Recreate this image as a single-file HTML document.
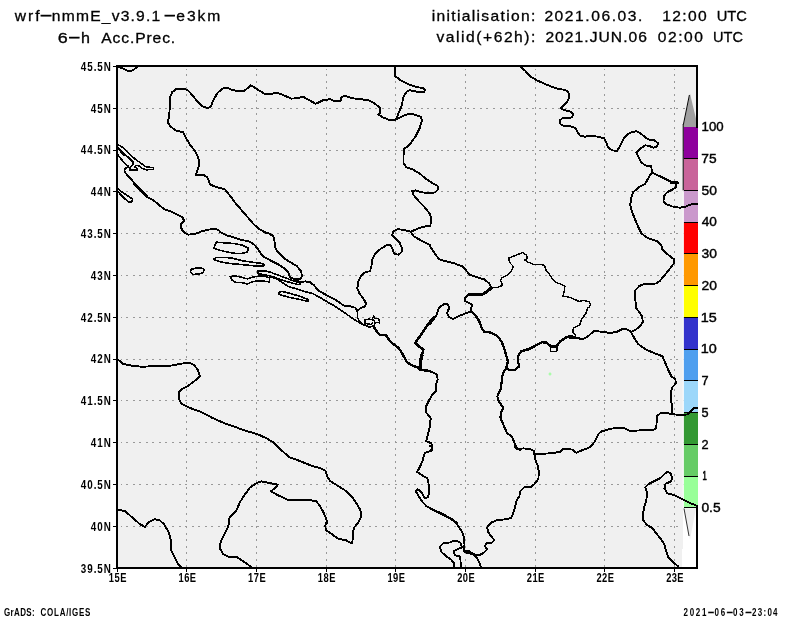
<!DOCTYPE html>
<html><head><meta charset="utf-8"><title>wrf-nmmE 6-h Acc.Prec.</title>
<style>html,body{margin:0;padding:0;background:#fff}svg{display:block}text{font-family:"Liberation Sans",sans-serif;fill:#000}</style></head><body>
<svg width="800" height="618" viewBox="0 0 800 618">
<rect width="800" height="618" fill="#fff"/>
<defs><clipPath id="c"><rect x="117" y="66" width="581" height="502"/></clipPath></defs>
<rect x="117" y="66" width="580" height="502" fill="#f0f0f0"/>
<path d="M186.5 69.0V568.0M256.5 69.0V568.0M326.5 69.0V568.0M395.5 69.0V568.0M465.5 69.0V568.0M535.5 69.0V568.0M604.5 69.0V568.0M674.5 69.0V568.0M121.0 108.5H697.0M121.0 150.5H697.0M121.0 191.5H697.0M121.0 233.5H697.0M121.0 275.5H697.0M121.0 317.5H697.0M121.0 359.5H697.0M121.0 400.5H697.0M121.0 442.5H697.0M121.0 484.5H697.0M121.0 526.5H697.0" stroke="#999" stroke-width="1" stroke-dasharray="2 4.55" stroke-dashoffset="1.4" shape-rendering="crispEdges" fill="none"/>
<rect x="683" y="507" width="14" height="60" fill="#fff"/>
<rect x="682" y="549" width="15" height="18" fill="#fff"/>
<polygon points="684,508.5 696,508.5 690,539.5" fill="#eee"/>
<path d="M684 508.5L689 536" stroke="#000" stroke-width="0.8" fill="none"/>
<rect x="683.6" y="126.80" width="14.4" height="32.05" fill="#8e009d"/>
<rect x="683.6" y="158.55" width="14.4" height="32.05" fill="#c9649a"/>
<rect x="683.6" y="190.30" width="14.4" height="32.05" fill="#ca99cc"/>
<rect x="683.6" y="222.05" width="14.4" height="32.05" fill="#ff0000"/>
<rect x="683.6" y="253.80" width="14.4" height="32.05" fill="#ff9900"/>
<rect x="683.6" y="285.55" width="14.4" height="32.05" fill="#ffff00"/>
<rect x="683.6" y="317.30" width="14.4" height="32.05" fill="#3333cc"/>
<rect x="683.6" y="349.05" width="14.4" height="32.05" fill="#4f9fef"/>
<rect x="683.6" y="380.80" width="14.4" height="32.05" fill="#9cd7fa"/>
<rect x="683.6" y="412.55" width="14.4" height="32.05" fill="#339933"/>
<rect x="683.6" y="444.30" width="14.4" height="32.05" fill="#66cc66"/>
<rect x="683.6" y="476.05" width="14.4" height="32.05" fill="#99ff99"/>
<polygon points="683.2,127 698,127 690,93.8" fill="#a0a0a0"/>
<path d="M683.4 124.5L689.4 95" stroke="#000" stroke-width="1" fill="none"/>
<path d="M683.6 158.55H698M683.6 190.30H698M683.6 222.05H698M683.6 253.80H698M683.6 285.55H698M683.6 317.30H698M683.6 349.05H698M683.6 380.80H698M683.6 412.55H698M683.6 444.30H698M683.6 476.05H698M683.6 507.80H698" stroke="#000" stroke-width="1" fill="none" shape-rendering="crispEdges"/>
<path d="M683.2 124V190.5" stroke="#000" stroke-width="1" fill="none"/>
<path d="M683.2 190.5V508" stroke="#fff" stroke-width="1" fill="none"/>
<path d="M117 66H697V127 M697 507.5V568H117V66" stroke="#000" stroke-width="2" fill="none" stroke-linecap="square" shape-rendering="crispEdges"/>
<path d="M113.0 66.5H117.0M113.0 108.5H117.0M113.0 150.5H117.0M113.0 191.5H117.0M113.0 233.5H117.0M113.0 275.5H117.0M113.0 317.5H117.0M113.0 359.5H117.0M113.0 400.5H117.0M113.0 442.5H117.0M113.0 484.5H117.0M113.0 526.5H117.0M113.0 568.5H117.0M117.5 568.0V572.0M186.5 568.0V572.0M256.5 568.0V572.0M326.5 568.0V572.0M395.5 568.0V572.0M465.5 568.0V572.0M535.5 568.0V572.0M604.5 568.0V572.0M674.5 568.0V572.0" stroke="#000" stroke-width="1" fill="none" shape-rendering="crispEdges"/>
<g clip-path="url(#c)" fill="none" stroke="#000" stroke-linejoin="round" stroke-linecap="round" shape-rendering="crispEdges">
<path d="M118.0 66.6L124.1 69.0L129.1 71.6L133.1 70.0L137.1 67.2" stroke-width="1.9"/>
<path d="M209.8 183.5L207.4 177.5L203.4 174.9L195.9 174.9L197.3 170.4L199.4 164.4L198.4 158.4L195.3 151.4L190.3 145.3L186.3 138.3L183.3 132.3L176.3 130.7L170.2 126.3L167.8 122.2L169.2 116.2L169.8 106.2L170.2 97.1L172.2 92.1L176.3 89.1L182.3 88.7L187.3 89.7L192.3 95.1L197.3 101.2L202.4 106.2L207.4 108.2L210.4 107.2L213.4 100.2L217.4 93.1L222.4 88.5L227.5 87.7L232.5 90.1L238.5 91.1L243.5 91.5L247.6 88.1L250.6 85.1L258.6 90.1L264.6 93.7L270.0 94.5" stroke-width="1.9"/>
<path d="M270.0 94.5L276.0 92.5L282.0 94.5L291.1 98.6L298.1 98.2L303.1 96.7L309.2 100.2L315.8 103.8L323.2 100.2L330.2 99.2L334.3 101.2L340.7 100.8L341.3 97.1L344.7 95.7L352.3 98.2L360.4 99.2L368.4 100.2L374.4 103.2L380.0 107.8L380.4 112.6L378.4 114.6L382.4 117.2L388.5 119.6L395.9 119.6" stroke-width="1.9"/>
<path d="M395.9 119.6L398.5 113.2L401.5 106.2L403.5 97.1L406.5 91.7L409.6 90.1L416.6 91.7L423.6 92.5L425.0 90.1L423.6 88.1L416.6 87.1L408.6 84.5L400.5 80.1L395.5 76.5L394.5 74.1L395.5 66.6" stroke-width="1.9"/>
<path d="M395.9 119.6L402.5 116.2L408.6 113.8L414.6 114.6L420.6 116.6L422.0 120.2L419.6 128.3L415.6 136.3L410.6 143.3L406.5 147.3L403.9 148.4L403.5 156.4L403.5 163.4L406.5 167.4L412.6 169.4L419.6 173.5L425.6 178.5L430.0 181.5" stroke-width="1.9"/>
<path d="M520.4 66.6L525.4 71.0L530.4 76.5L536.4 80.1L544.5 83.7L552.5 87.1L558.5 89.1L564.5 89.7L568.2 91.7L569.6 96.1L567.6 101.2L563.5 105.8L561.1 108.2L564.5 110.2L570.6 111.6L573.0 114.2L572.2 117.2L568.6 118.2L562.5 118.2L559.9 120.2L560.5 124.3L563.5 125.9L570.6 126.3L575.6 128.3L577.6 132.3L579.6 135.3L584.6 136.7L590.0 135.9" stroke-width="1.9"/>
<path d="M590.1 135.9L592.1 135.9L598.1 136.7L604.1 138.3L606.1 142.3L608.2 147.3L612.2 150.4L617.2 150.8L619.2 147.3L622.2 141.3L625.2 136.3L630.2 132.7L636.3 131.3L640.3 133.3L645.3 137.3L649.3 139.7L654.3 140.3L658.0 143.3L657.3 146.3L653.3 147.8L649.3 145.9L645.3 145.3L640.3 148.4L636.3 152.4L638.3 156.4L641.3 162.4L645.3 165.4L651.3 166.4L651.9 172.4L658.4 175.5L666.4 179.5L672.4 182.5" stroke-width="1.9"/>
<path d="M651.9 172.4L649.3 176.5L645.3 183.5" stroke-width="1.9"/>
<path d="M671.4 182.5L677.4 182.9" stroke-width="3"/>
<path d="M134.1 184.0L140.1 190.0L147.1 197.1L153.2 200.1L159.2 205.1L164.2 209.1L170.2 211.1L176.3 214.1L182.3 217.1L184.3 221.1L181.3 223.2L180.7 227.2L183.3 231.8L188.3 234.6L194.3 234.2L200.4 231.8L207.4 229.8L214.4 228.8L218.4 229.8L220.4 232.2L226.5 235.2L234.5 237.8L242.5 240.2L248.6 241.2L253.6 244.2L257.6 248.3L260.6 253.3L264.6 257.3L270.0 259.9" stroke-width="1.9"/>
<path d="M209.4 184.0L213.4 186.0L219.4 188.0L224.5 189.0L229.5 195.0L235.5 203.1L241.5 210.1L247.6 217.1L253.6 224.2L259.6 229.2L265.6 232.6L270.0 233.6" stroke-width="1.9"/>
<path d="M118.0 189.0L122.0 192.0L128.1 196.0L132.5 199.1L132.1 201.7L129.1 202.1L125.1 199.1L120.0 194.0L118.0 191.6" stroke-width="1.5"/>
<path d="M216.4 242.2L224.5 242.8L234.5 243.6L242.5 245.2L248.2 247.9L247.6 251.9L242.5 253.3L234.5 253.3L226.5 251.9L218.4 249.9L213.8 247.9L215.4 244.2L216.4 242.2" stroke-width="1.6"/>
<path d="M213.8 258.7L217.4 257.3L224.5 257.3L232.5 258.3L242.5 260.7L252.6 262.3L260.6 263.3L264.2 264.3L263.6 265.9L258.6 266.3L248.6 265.3L238.5 264.3L228.5 263.3L220.4 261.9L215.4 260.3L213.8 258.7" stroke-width="1.6"/>
<path d="M191.3 269.3L195.3 268.3L201.4 267.9L204.0 269.3L203.4 272.4L199.4 274.0L193.3 274.4L190.3 272.4L191.3 269.3" stroke-width="1.6"/>
<path d="M270.0 234.2L273.0 235.8L274.4 240.2L275.0 247.3L278.0 252.3L284.1 258.3L291.1 262.7L297.1 266.3L301.1 271.3L302.1 276.4L300.1 279.4L295.1 279.4L290.1 277.4L288.1 272.4L284.1 268.3L278.0 264.3L270.0 260.3" stroke-width="1.9"/>
<path d="M295.1 279.4L300.1 282.4L305.1 281.4L310.2 282.4L314.2 285.4L318.2 290.4L325.2 294.4L332.2 298.1L338.3 301.5L343.3 305.5L349.3 306.1L354.3 307.5" stroke-width="1.9"/>
<path d="M270.0 276.8L276.0 278.4L282.0 282.4L288.1 286.4L296.1 288.8L304.1 291.4L312.2 293.4L320.2 297.5L328.2 302.5L336.3 306.9" stroke-width="1.6"/>
<path d="M279.0 292.4L282.0 291.4L290.1 293.4L300.1 296.4L308.2 299.5L307.8 301.5L300.1 299.5L290.1 297.5L282.0 295.4L279.0 294.0L279.0 292.4" stroke-width="1.6"/>
<path d="M364.4 307.5L366.0 303.5L363.4 298.5L359.4 293.4L357.3 288.4L358.4 281.4L361.4 275.4L365.4 272.0L370.0 271.3L371.4 266.3L372.4 259.3L375.4 253.3L381.4 248.3L387.5 244.6L390.5 245.2L392.5 249.3L394.5 253.9L398.5 254.7L401.5 252.3L402.1 248.3L399.5 242.2L395.5 238.2L392.1 235.2L393.5 231.2L397.5 229.2L403.5 229.8L410.6 231.8L418.6 228.2L426.6 226.2L430.0 226.6" stroke-width="1.9"/>
<path d="M410.6 231.8L413.6 236.2L420.6 240.2L430.0 245.2" stroke-width="1.9"/>
<path d="M430.0 193.0L422.6 192.4L415.6 190.4L412.2 191.0L413.6 195.0L418.6 201.1L424.6 207.1L430.0 214.1" stroke-width="1.9"/>
<path d="M430.0 181.6L434.0 184.0L437.6 186.0L438.0 189.6L435.0 192.4L430.0 193.2" stroke-width="1.9"/>
<path d="M430.0 214.1L431.0 218.1L430.6 224.2L430.0 226.6" stroke-width="1.9"/>
<path d="M430.0 246.2L434.0 252.3L439.0 259.3L446.1 261.3L454.1 263.3L462.1 266.3L466.1 270.3L469.2 274.4L476.2 276.8L484.2 279.4L489.2 283.4L491.2 288.0" stroke-width="1.9"/>
<path d="M491.2 288.0L487.2 291.4L483.2 294.0L476.2 294.8L469.2 294.4" stroke-width="3"/>
<path d="M469.2 294.4L465.1 297.5L464.5 300.5L468.2 302.5L472.2 304.5L471.2 307.5" stroke-width="1.9"/>
<path d="M491.2 288.0L497.3 287.4L502.7 285.4L500.3 280.4L502.3 277.4L507.3 275.4L511.3 271.3L513.3 266.3L510.3 263.3L508.3 258.3L514.3 255.9L519.4 253.9L522.8 252.3L526.4 255.3L527.4 258.3L524.4 259.9L528.4 262.3L534.4 264.7L539.4 264.3L544.5 265.3L546.5 271.3L549.5 274.4L552.1 278.4L555.5 282.4L561.5 284.4L564.9 286.0L564.5 290.4L562.9 296.0L570.6 297.5" stroke-width="1.4"/>
<path d="M439.0 307.5L445.1 303.5L448.1 304.5L449.1 307.5" stroke-width="1.9"/>
<path d="M645.3 184.0L639.3 187.0L633.3 192.0L631.2 198.1L630.2 205.1L632.2 212.1L635.3 220.1L638.3 227.2L641.3 233.2L646.3 237.2L652.3 239.8L657.3 241.2L661.4 245.2L662.4 249.3L666.4 253.3L671.4 257.3L674.4 259.3L674.0 263.3L669.4 269.3L664.4 275.4L659.4 281.4L656.3 283.4L650.3 284.4L644.3 284.0L639.3 286.0L635.3 290.4L635.3 298.5L635.9 307.5" stroke-width="1.9"/>
<path d="M676.4 184.0L676.0 187.0L672.4 189.6L667.4 192.0L664.0 196.0L663.4 201.1L666.4 204.1L672.4 206.5L679.4 207.7L684.5 207.1L690.5 204.5L697.9 203.7" stroke-width="1.9"/>
<path d="M570.0 297.5L575.0 299.5L579.0 301.5L583.1 300.5L589.1 301.5L590.7 304.5L589.1 307.5" stroke-width="1.4"/>
<path d="M117.6 359.2L123.1 363.8L132.1 365.8L143.1 366.8L156.2 365.8L170.2 365.8L180.3 363.8L189.3 362.6L194.3 365.2L198.0 370.2L199.8 376.3L194.3 381.3L187.3 386.3L181.3 389.3L178.9 392.3L178.9 398.4L181.3 403.4L187.3 406.8L196.3 410.4" stroke-width="1.9"/>
<path d="M196.4 410.4L200.0 411.4L212.0 417.7L224.1 423.1L238.2 428.1L250.2 432.1L258.2 434.5L266.3 438.2L273.3 442.2L280.3 449.2L289.4 457.2L300.4 461.2L310.4 465.3L320.5 468.3L325.5 470.7L327.5 477.3L330.5 481.3L338.6 486.3L344.6 490.0L351.6 496.4L356.6 503.4L360.0 509.4" stroke-width="1.9"/>
<path d="M355.3 308.0L357.3 311.0L357.3 317.0L359.4 321.1L362.4 323.7" stroke-width="1.5"/>
<path d="M430.0 324.1L434.0 319.0L437.0 314.0L439.0 308.0" stroke-width="1.9"/>
<path d="M449.1 308.0L447.1 313.0L449.1 317.0L453.1 319.0L459.1 316.0L466.1 313.0L471.2 311.6L471.2 308.0" stroke-width="1.9"/>
<path d="M471.2 311.6L475.2 315.0L479.2 321.1L481.8 328.1L484.2 331.7L490.2 332.5L497.3 336.1L501.3 341.1L503.9 347.2L505.9 354.2L507.9 361.2L506.3 368.2" stroke-width="2.3"/>
<path d="M506.3 368.2L503.3 372.3L501.9 378.3L501.3 385.3L500.3 390.3L497.3 396.4L499.3 402.4L503.3 407.4L501.3 412.4L500.3 417.4L503.3 424.5L506.3 431.5" stroke-width="2.2"/>
<path d="M506.6 433.1L511.6 436.1L514.6 443.2L517.2 449.2L520.0 449.8" stroke-width="2"/>
<path d="M506.3 368.2L509.3 370.2L515.3 369.8L519.4 366.2L518.0 361.2L518.4 355.2L521.4 351.2" stroke-width="2.2"/>
<path d="M521.4 351.2L528.4 349.2L536.4 345.1L542.4 342.1L546.5 342.5L550.5 346.2L556.5 346.2L560.5 341.1L566.5 337.1L570.6 336.1L574.6 337.7" stroke-width="2.6"/>
<path d="M574.6 337.7L579.6 338.7L583.0 339.1" stroke-width="2"/>
<path d="M550.5 347.2L556.9 347.2L556.9 351.2L550.5 351.2L550.5 347.2" stroke-width="1.2"/>
<path d="M587.6 308.0L585.6 314.0L581.6 319.0L579.6 325.1L573.6 328.1L572.6 332.1L575.6 335.1L574.6 337.7" stroke-width="1.5"/>
<path d="M570.0 338.1L576.0 337.7L583.1 339.1L588.1 336.1L594.1 331.1L602.1 331.7L610.2 333.1L617.2 331.7L623.2 328.7L628.2 329.7L631.2 332.1" stroke-width="1.9"/>
<path d="M635.9 308.0L639.3 312.0L642.3 317.0L642.7 322.1L639.3 327.1L634.3 330.5L631.2 332.1" stroke-width="1.9"/>
<path d="M631.2 332.1L634.3 338.1L638.3 344.1L645.3 349.2L654.3 353.2L662.4 356.2L665.4 363.2L668.4 370.2L671.4 376.3L675.4 379.3L675.8 383.3L672.4 387.3L670.8 392.3L671.4 400.4L672.0 408.4L671.4 413.4" stroke-width="1.9"/>
<path d="M697.9 407.8L693.5 408.4L690.5 411.4L687.5 414.4L681.4 415.0L674.4 414.4L668.4 413.4L661.4 412.8L657.3 415.4L656.7 421.5L656.3 427.5L654.3 429.5L648.3 430.1L638.3 430.5L630.2 430.9L625.2 428.5L619.2 427.9L612.2 428.5L606.1 430.1L601.1 431.5" stroke-width="1.9"/>
<path d="M117.6 509.3L125.1 511.3L132.1 517.3L140.1 524.3L145.1 526.9L148.2 522.3L154.2 519.3L159.2 519.9L164.2 524.3L169.2 533.3L170.8 540.4L171.2 550.4L174.3 556.4L178.3 564.5L181.3 567.5" stroke-width="1.9"/>
<path d="M239.2 503.4L244.2 495.4L250.2 487.3L257.2 482.7L261.2 481.3L268.3 482.7L277.9 484.7L275.3 488.0L270.7 491.4L278.3 495.4L288.4 500.0L298.4 499.8L308.4 499.8L316.5 501.4L320.1 506.4L323.5 512.4L326.5 519.5L326.9 523.5" stroke-width="1.9"/>
<path d="M239.5 503.2L236.5 510.3L229.5 517.3L228.5 525.3L225.5 532.3L221.4 540.4L219.8 544.4L220.4 549.4L223.5 554.4L228.5 556.8L237.5 557.4L243.5 561.5L250.6 566.5" stroke-width="1.9"/>
<path d="M360.4 510.3L361.4 516.3L358.4 522.3L354.3 527.3L352.7 532.3L352.7 539.4L351.9 543.4L346.3 540.4L338.3 538.8L332.2 534.4L326.2 530.3L325.2 526.3L326.6 521.3" stroke-width="1.9"/>
<path d="M514.3 446.0L517.3 449.0L523.4 448.4L530.4 449.0L534.0 451.0L534.4 454.0" stroke-width="1.9"/>
<path d="M534.4 454.0L535.4 460.1L538.0 466.1L538.8 472.1L538.4 479.1L534.4 484.2L530.4 487.2L524.4 487.2L520.4 491.2L519.4 496.2L516.3 501.2L514.7 508.2L512.7 514.3L511.3 517.9L505.3 519.3L496.3 520.3L491.2 522.7L487.2 527.3L488.2 532.3L491.2 536.4L494.3 540.0L491.2 543.4L486.2 543.4L485.2 546.4L487.2 549.4L484.2 552.4L479.2 555.4L475.2 554.8L469.2 551.4L464.1 551.4" stroke-width="1.9"/>
<path d="M430.0 508.2L436.0 511.3L444.1 515.3L450.1 518.7L455.1 521.9L459.1 527.3L462.1 532.3L464.1 537.4L464.5 544.4L464.1 551.4L465.1 552.4L473.2 554.4L477.2 558.4L479.2 562.5L481.2 567.5" stroke-width="1.9"/>
<path d="M461.1 567.5L460.1 556.4L455.1 555.4L453.7 551.4L457.1 549.4L462.1 547.4L460.1 542.4L455.1 540.4L450.1 542.4L443.1 543.4L440.0 546.4L441.0 551.4L445.1 555.4L451.1 559.5L454.1 563.5L454.1 567.5" stroke-width="1.9"/>
<path d="M430.0 446.0L432.0 447.0L431.6 451.0L430.0 451.6" stroke-width="1.9"/>
<path d="M697.9 506.2L690.5 503.2L682.4 499.2L674.4 495.2L667.4 493.2L664.4 488.2L665.4 483.8L670.4 481.7L672.4 478.1L670.4 473.1L667.4 471.7L664.4 474.1L660.4 478.1L654.3 481.1L648.3 484.2L645.3 487.2L647.3 493.2L646.3 500.2L644.3 507.2L642.7 514.3L643.3 520.3L647.3 525.3L652.3 527.9L655.3 532.3L660.4 538.4L664.4 544.4L666.0 550.4L668.4 557.4L673.4 562.5L678.4 566.5" stroke-width="1.9"/>
<path d="M430.0 371.3L437.0 374.3L437.6 379.3L435.6 385.3L436.0 391.3L432.0 395.3L430.0 399.4" stroke-width="1.9"/>
<path d="M429.3 400.0L426.3 406.0L425.9 412.0L430.7 418.1L429.9 426.1L427.9 434.1L426.3 441.2L431.3 443.2L432.3 448.2L429.3 451.2L424.7 453.2L422.7 460.2L420.2 466.3L417.2 471.9L422.2 475.3L427.3 478.3L428.7 484.3L429.3 492.4L427.9 497.4L424.7 498.0L422.7 494.4L419.8 490.4L417.2 489.4L415.8 491.4L418.2 495.4L421.2 500.4L426.3 506.0L434.3 510.0L444.3 514.9L452.4 519.5L456.8 522.9" stroke-width="1.9"/>
<path d="M601.3 431.7L599.3 433.1L597.3 436.1L594.3 442.2L590.3 447.2L582.2 450.2L576.2 452.8L572.2 449.6L563.8 448.6L560.2 451.8L552.1 453.2L542.1 453.8L533.7 453.8" stroke-width="1.9"/>
<path d="M671.0 400.0L672.0 406.0L671.6 413.5" stroke-width="1.9"/>
<path d="M117.5 144.5L123.0 147.5L135.1 159.1L146.1 166.9L153.2 167.6L153.7 169.3L146.1 169.9L141.1 167.9L138.6 165.6L135.6 165.6L134.9 167.1L137.6 168.6L137.6 170.1L130.1 170.1L129.9 168.1L132.6 165.1L133.6 162.6L122.0 151.1L117.5 147.0" stroke-width="1.5"/>
<path d="M117.5 154.1L121.0 159.1L126.1 164.6L128.6 166.6L126.6 167.6L124.5 169.6L125.0 172.6L128.1 176.2L132.1 180.2L136.1 185.2L141.1 190.2L146.1 195.2L147.6 196.7" stroke-width="1.7"/>
<path d="M117.5 148.0L121.0 152.1L124.0 155.1" stroke-width="1.5"/>
<path d="M230.2 276.6L235.2 275.8L241.2 277.2L247.2 278.8L252.2 277.2L258.3 276.2L265.3 276.2L269.3 277.8L269.3 281.8L264.3 281.2L258.3 280.8L252.2 281.8L247.2 284.2L242.2 282.6L236.2 282.6L232.2 280.2L230.2 276.6" stroke-width="1.6"/>
<path d="M257.3 271.2L264.3 270.8L270.3 272.2L278.4 275.2L286.4 278.2L294.4 281.2L299.4 282.6L300.8 284.2L298.4 284.6L290.4 282.6L282.4 280.2L274.3 277.2L269.3 275.8L263.3 274.6L258.3 273.8L257.3 271.2" stroke-width="1.6"/>
<path d="M336.0 307.1L345.1 313.1L352.6 318.4L358.6 322.2L362.4 324.4L365.4 325.2" stroke-width="1.6"/>
<path d="M364.3 307.4L363.9 306.4L360.1 308.6L357.1 310.9" stroke-width="1.9"/>
<path d="M364.6 319.9L369.2 319.2L373.7 319.9L375.2 322.9L373.7 325.9L369.2 327.4L365.4 325.2L364.6 319.9" stroke-width="1.6"/>
<path d="M366.9 323.7L370.7 324.4L372.9 322.2" stroke-width="1.4"/>
<path d="M372.2 319.2L373.7 315.8L375.2 318.4L378.9 318.9L379.4 322.9L376.7 322.2" stroke-width="1.3"/>
<path d="M373.7 326.7L376.7 331.2L379.7 335.0L386.5 335.4L388.7 339.5L393.3 344.0L398.5 347.8L401.5 352.3L404.5 357.6L406.8 362.1L411.3 365.1L417.3 367.3L420.4 370.1L426.4 370.4L430.0 371.3" stroke-width="2.4"/>
<path d="M433.9 316.9L427.9 324.4L421.9 333.5L415.1 343.0L418.9 346.3L423.4 349.6L421.9 355.3" stroke-width="2.5"/>
<path d="M421.9 355.3L420.4 361.3L420.1 369.6" stroke-width="3.4"/>
</g>
<path d="M548.5 374h3M550 372.5v3" stroke="#99ff99" stroke-width="1.2" fill="none"/>
<g opacity="0.999">
<text transform="translate(80.85,70.70) scale(0.820,1)" font-size="12" font-weight="bold" letter-spacing="1.14">45.5N</text>
<text transform="translate(90.80,112.53) scale(0.820,1)" font-size="12" font-weight="bold" letter-spacing="1.21">45N</text>
<text transform="translate(80.85,154.35) scale(0.820,1)" font-size="12" font-weight="bold" letter-spacing="1.14">44.5N</text>
<text transform="translate(90.80,196.18) scale(0.820,1)" font-size="12" font-weight="bold" letter-spacing="1.21">44N</text>
<text transform="translate(80.85,238.00) scale(0.820,1)" font-size="12" font-weight="bold" letter-spacing="1.14">43.5N</text>
<text transform="translate(90.80,279.82) scale(0.820,1)" font-size="12" font-weight="bold" letter-spacing="1.21">43N</text>
<text transform="translate(80.85,321.65) scale(0.820,1)" font-size="12" font-weight="bold" letter-spacing="1.14">42.5N</text>
<text transform="translate(90.80,363.48) scale(0.820,1)" font-size="12" font-weight="bold" letter-spacing="1.21">42N</text>
<text transform="translate(80.85,405.30) scale(0.820,1)" font-size="12" font-weight="bold" letter-spacing="1.14">41.5N</text>
<text transform="translate(90.80,447.12) scale(0.820,1)" font-size="12" font-weight="bold" letter-spacing="1.21">41N</text>
<text transform="translate(80.85,488.95) scale(0.820,1)" font-size="12" font-weight="bold" letter-spacing="1.14">40.5N</text>
<text transform="translate(90.80,530.78) scale(0.820,1)" font-size="12" font-weight="bold" letter-spacing="1.21">40N</text>
<text transform="translate(80.85,572.60) scale(0.820,1)" font-size="12" font-weight="bold" letter-spacing="1.14">39.5N</text>
<text transform="translate(108.81,581.60) scale(0.780,1)" font-size="12" font-weight="bold" letter-spacing="0.64">15E</text>
<text transform="translate(178.45,581.60) scale(0.780,1)" font-size="12" font-weight="bold" letter-spacing="0.64">16E</text>
<text transform="translate(248.09,581.60) scale(0.780,1)" font-size="12" font-weight="bold" letter-spacing="0.64">17E</text>
<text transform="translate(317.74,581.60) scale(0.780,1)" font-size="12" font-weight="bold" letter-spacing="0.64">18E</text>
<text transform="translate(387.38,581.60) scale(0.780,1)" font-size="12" font-weight="bold" letter-spacing="0.64">19E</text>
<text transform="translate(457.21,581.60) scale(0.780,1)" font-size="12" font-weight="bold" letter-spacing="0.52">20E</text>
<text transform="translate(526.85,581.60) scale(0.780,1)" font-size="12" font-weight="bold" letter-spacing="0.52">21E</text>
<text transform="translate(596.49,581.60) scale(0.780,1)" font-size="12" font-weight="bold" letter-spacing="0.52">22E</text>
<text transform="translate(666.13,581.60) scale(0.780,1)" font-size="12" font-weight="bold" letter-spacing="0.52">23E</text>
<text transform="translate(701.62,131.20) scale(1.084,1)" font-size="12.2" stroke="#000" stroke-width="0.4">100</text>
<text transform="translate(701.34,162.95) scale(1.128,1)" font-size="12.2" stroke="#000" stroke-width="0.4">75</text>
<text transform="translate(701.43,194.70) scale(1.136,1)" font-size="12.2" stroke="#000" stroke-width="0.4">50</text>
<text transform="translate(701.72,226.45) scale(1.114,1)" font-size="12.2" stroke="#000" stroke-width="0.4">40</text>
<text transform="translate(701.43,258.20) scale(1.136,1)" font-size="12.2" stroke="#000" stroke-width="0.4">30</text>
<text transform="translate(701.43,289.95) scale(1.136,1)" font-size="12.2" stroke="#000" stroke-width="0.4">20</text>
<text transform="translate(700.82,321.70) scale(1.183,1)" font-size="12.2" stroke="#000" stroke-width="0.4">15</text>
<text transform="translate(700.82,353.45) scale(1.183,1)" font-size="12.2" stroke="#000" stroke-width="0.4">10</text>
<text transform="translate(701.48,385.20) scale(1.043,1)" font-size="12.2" stroke="#000" stroke-width="0.4">7</text>
<text transform="translate(701.48,416.95) scale(1.043,1)" font-size="12.2" stroke="#000" stroke-width="0.4">5</text>
<text transform="translate(701.48,448.70) scale(1.043,1)" font-size="12.2" stroke="#000" stroke-width="0.4">2</text>
<text transform="translate(702.57,480.45) scale(0.629,1)" font-size="12.2" stroke="#000" stroke-width="0.7">1</text>
<text transform="translate(701.43,512.20) scale(1.131,1)" font-size="12.2" stroke="#000" stroke-width="0.4">0.5</text>
<text transform="translate(14.80,20.90) scale(1.100,1)" font-size="14.2" letter-spacing="1.77" stroke="#000" stroke-width="0.3">wrf</text><text transform="translate(39.51,19.70) scale(2.771,1)" font-size="14.2" stroke="#000" stroke-width="0.5">-</text><text transform="translate(51.80,20.90) scale(1.100,1)" font-size="14.2" letter-spacing="1.11" stroke="#000" stroke-width="0.3">nmmE_v3.9.1</text><text transform="translate(163.43,19.70) scale(2.643,1)" font-size="14.2" stroke="#000" stroke-width="0.5">-</text><text transform="translate(176.35,20.90) scale(1.100,1)" font-size="14.2" letter-spacing="1.73" stroke="#000" stroke-width="0.3">e3km</text>
<text transform="translate(57.85,42.70) scale(1.262,1)" font-size="14.2" stroke="#000" stroke-width="0.3">6</text><text transform="translate(68.06,41.50) scale(2.671,1)" font-size="14.2" stroke="#000" stroke-width="0.5">-</text><text transform="translate(81.07,42.70) scale(1.133,1)" font-size="14.2" stroke="#000" stroke-width="0.3">h</text>
<text transform="translate(101.30,42.70) scale(1.100,1)" font-size="14.2" letter-spacing="0.81" stroke="#000" stroke-width="0.3">Acc.Prec.</text>
<text transform="translate(431.70,20.60) scale(1.100,1)" font-size="14.2" letter-spacing="1.21" stroke="#000" stroke-width="0.3">initialisation:</text>
<text transform="translate(544.38,20.60) scale(1.100,1)" font-size="14.2" letter-spacing="1.42" stroke="#000" stroke-width="0.3">2021.06.03.</text>
<text transform="translate(662.20,20.60) scale(1.100,1)" font-size="14.2" letter-spacing="1.23" stroke="#000" stroke-width="0.3">12:00</text>
<text transform="translate(716.66,20.60) scale(1.036,1)" font-size="14.2" stroke="#000" stroke-width="0.3">UTC</text>
<text transform="translate(436.50,42.30) scale(1.100,1)" font-size="14.2" letter-spacing="1.40" stroke="#000" stroke-width="0.3">valid(+62h):</text>
<text transform="translate(545.38,42.30) scale(1.100,1)" font-size="14.2" letter-spacing="0.96" stroke="#000" stroke-width="0.3">2021.JUN.06</text>
<text transform="translate(657.75,42.30) scale(1.100,1)" font-size="14.2" letter-spacing="1.38" stroke="#000" stroke-width="0.3">02:00</text>
<text transform="translate(713.07,42.30) scale(1.025,1)" font-size="14.2" stroke="#000" stroke-width="0.3">UTC</text>
<text transform="translate(4.00,615.60) scale(0.800,1)" font-size="10" font-weight="bold" letter-spacing="0.45">GrADS:</text>
<text transform="translate(40.60,615.60) scale(0.800,1)" font-size="10" font-weight="bold" letter-spacing="0.91">COLA/IGES</text>
<text transform="translate(683.55,615.60) scale(0.800,1)" font-size="10" font-weight="bold" letter-spacing="2.12">2021</text><text transform="translate(707.45,614.80) scale(2.100,1)" font-size="10" font-weight="bold" stroke="#000" stroke-width="0.2">-</text><text transform="translate(714.60,615.60) scale(0.800,1)" font-size="10" font-weight="bold" letter-spacing="2.25">06</text><text transform="translate(726.20,614.80) scale(2.100,1)" font-size="10" font-weight="bold" stroke="#000" stroke-width="0.2">-</text><text transform="translate(733.10,615.60) scale(0.800,1)" font-size="10" font-weight="bold" letter-spacing="2.25">03</text><text transform="translate(744.95,614.80) scale(2.100,1)" font-size="10" font-weight="bold" stroke="#000" stroke-width="0.2">-</text><text transform="translate(752.05,615.60) scale(0.800,1)" font-size="10" font-weight="bold" letter-spacing="1.58">23:04</text>
</g>
</svg></body></html>
